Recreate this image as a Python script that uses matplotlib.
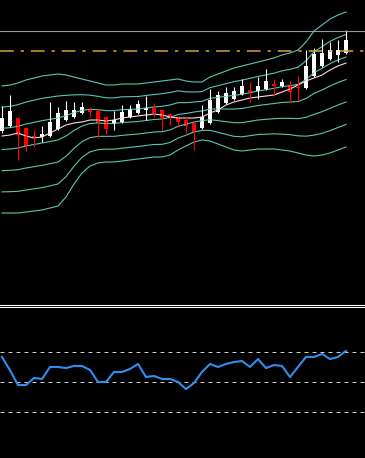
import numpy as np
import matplotlib
matplotlib.use('Agg')
import matplotlib.pyplot as plt

# candles (price units)
opens = [169, 174, 182, 172, 164, 163, 164, 171, 180, 183, 187, 191, 189, 183, 177, 178, 183, 187, 190, 192, 190, 186,
         183, 180, 177, 172, 177, 188, 197, 201, 206, 210, 209, 211, 216, 214, 215, 213, 212, 224, 234, 241, 245, 247]
highs = [194, 205, 183, 173, 170, 174, 198, 193, 199, 198, 198, 193, 190, 184, 189, 195, 195, 200, 204, 197, 191, 187,
         184, 183, 178, 195, 211, 209, 213, 213, 221, 218, 223, 231, 221, 221, 219, 224, 250, 252, 261, 258, 260, 270]
lows = [167, 173, 140, 149, 153, 158, 163, 170, 179, 182, 186, 183, 162, 166, 170, 177, 182, 186, 180, 183, 170, 175,
        173, 166, 150, 171, 176, 187, 196, 200, 205, 198, 201, 210, 204, 213, 197, 200, 211, 223, 233, 240, 238, 246]
closes = [182, 189, 165, 154, 163, 166, 178, 187, 190, 190, 193, 188, 177, 171, 180, 188, 191, 196, 192, 187, 182, 182,
          178, 174, 168, 183, 200, 205, 207, 209, 214, 208, 214, 219, 214, 218, 208, 212, 234, 246, 247, 250, 250, 260]

# moving average (pink)
ma = [164, 165, 167, 164, 162, 163, 167, 171, 175, 177, 178, 180, 180, 179, 180, 182, 183, 184, 185, 186, 185, 183,
      182, 182, 182, 183, 187, 190, 195, 198, 200, 202, 203, 204, 205, 208, 211, 215, 219, 222, 225, 230, 234, 237]

# outer band edges (+3 / -3), inner bands split between them
band_top = [214, 215, 217, 220, 222, 224, 225, 226, 225, 223, 221, 219, 217, 215, 215, 216, 216, 216, 217, 218, 219, 220,
            221, 219, 218, 218, 223, 226, 229, 232, 234, 236, 238, 240, 242, 245, 247, 250, 258, 269, 275, 281, 285, 288]
band_bot = [87, 87, 87, 88, 89, 90, 92, 94, 103, 116, 127, 134, 137, 138, 138, 139, 140, 141, 142, 143, 143, 145,
            150, 154, 158, 160, 159, 156, 153, 150, 149, 150, 151, 151, 151, 150, 149, 147, 145, 144, 145, 147, 150, 153]

gray_level = 269
orange_level = 249

# oscillator
rsi = [66.9, 58.0, 48.2, 48.2, 52.9, 52.2, 60.2, 60.2, 59.5, 60.9, 60.9, 58.2, 50.2, 50.2, 56.9, 56.9, 58.9, 62.2,
       53.5, 54.2, 52.2, 52.2, 50.2, 45.5, 49.5, 56.9, 62.2, 60.2, 62.2, 63.5, 64.2, 60.2, 65.5, 59.5, 61.5, 60.9,
       53.5, 60.2, 66.9, 66.9, 68.9, 65.5, 66.9, 70.9]
rsi_levels = [70, 50, 30]

W, H = 365, 458
fig = plt.figure(figsize=(W / 100, H / 100), dpi=100, facecolor='black')

top_h = 304.5
ax = fig.add_axes([0, 1 - top_h / H, 1, top_h / H], facecolor='black')
ax2 = fig.add_axes([0, 0, 1, (H - 306.5) / H], facecolor='black')

x = np.arange(len(opens))
o = np.array(opens)
c = np.array(closes)
up = c >= o

# bands
top = np.array(band_top, dtype=float)
bot = np.array(band_bot, dtype=float)
mid = (top + bot) / 2
sig = (top - bot) / 6
for k in range(-3, 4):
    ax.plot(x, mid + k * sig, color='#5cc4b2', lw=0.8)

ax.plot(x, ma, color='#ffd6dc', lw=0.8)

# candles
for i in x:
    col = 'white' if up[i] else '#ff0000'
    ax.vlines(i, lows[i], highs[i], color=col, lw=0.8)
ax.bar(x[up], c[up] - o[up], bottom=o[up], width=0.62, color='white', lw=0)
ax.bar(x[~up], c[~up] - o[~up], bottom=o[~up], width=0.62, color='#ff0000', lw=0)

ax.axhline(gray_level, color='#8e9aa4', lw=0.8)
ax.axhline(orange_level, color='#d9a030', lw=1.1, linestyle=(0, (9, 4.5, 2.2, 4.5)))

ax.set_xlim(-0.25, 45.375)
ax.set_ylim(-4.5, 300)
ax.set_xticks([])
ax.set_yticks([])
for s in ['top', 'left', 'right']:
    ax.spines[s].set_visible(False)
ax.spines['bottom'].set_color('white')
ax.spines['bottom'].set_linewidth(0.8)

# oscillator panel
for lv in rsi_levels:
    ax2.axhline(lv, color='#d0d0d0', lw=0.72, linestyle=(0, (4, 4)))
ax2.plot(x, rsi, color='#2e8ff0', lw=1.5)
ax2.set_xlim(-0.25, 45.375)
ax2.set_ylim(-0.47, 100.53)
ax2.set_xticks([])
ax2.set_yticks([])
for s in ['bottom', 'left', 'right']:
    ax2.spines[s].set_visible(False)
ax2.spines['top'].set_color('white')
ax2.spines['top'].set_linewidth(0.8)

fig.savefig('out.png', dpi=100, facecolor='black')
